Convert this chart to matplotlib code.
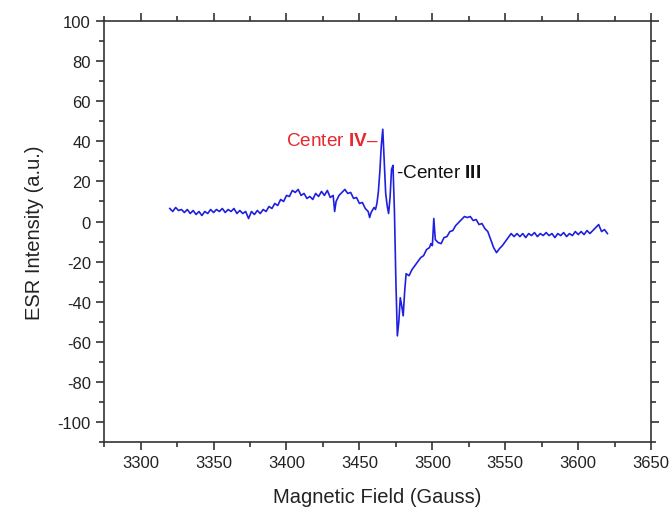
import numpy as np
import matplotlib
matplotlib.use("Agg")
import matplotlib.pyplot as plt
from matplotlib.ticker import MultipleLocator

plt.rcParams['font.family'] = ['Liberation Sans', 'DejaVu Sans']
plt.rcParams['mathtext.fontset'] = 'custom'
plt.rcParams['mathtext.rm'] = 'Liberation Sans'
plt.rcParams['mathtext.bf'] = 'Liberation Sans:bold'
plt.rcParams['axes.unicode_minus'] = False

# ESR spectrum (field in Gauss, intensity in a.u.)
field = [
    3320, 3322, 3324, 3326, 3328, 3330, 3332, 3334, 3336, 3338,
    3340, 3342, 3344, 3346, 3348, 3350, 3352, 3354, 3356, 3358,
    3360, 3362, 3364, 3366, 3368, 3370, 3372, 3374, 3376, 3378,
    3380, 3382, 3384, 3386, 3388, 3390, 3392, 3394, 3396, 3398,
    3400, 3402, 3404, 3406, 3408, 3410, 3412, 3414, 3416, 3418,
    3420, 3422, 3424, 3426, 3428, 3430, 3432, 3433, 3434, 3436,
    3438, 3440, 3442, 3444, 3446, 3448, 3450, 3452, 3454, 3456,
    3457, 3458, 3460, 3461, 3462, 3463, 3464, 3465, 3466, 3467,
    3468, 3469, 3470, 3471, 3472, 3473, 3474, 3475, 3476, 3477,
    3478, 3479, 3480, 3481, 3482, 3484, 3486, 3488, 3490, 3492,
    3494, 3496, 3498, 3499, 3500, 3501, 3502, 3504, 3506, 3508,
    3510, 3512, 3514, 3516, 3518, 3520, 3522, 3524, 3526, 3528,
    3530, 3532, 3534, 3536, 3538, 3540, 3542, 3544, 3546, 3548,
    3550, 3552, 3554, 3556, 3558, 3560, 3562, 3564, 3566, 3568,
    3570, 3572, 3574, 3576, 3578, 3580, 3582, 3584, 3586, 3588,
    3590, 3592, 3594, 3596, 3598, 3600, 3602, 3604, 3606, 3608,
    3610, 3612, 3614, 3616, 3618, 3620,
]
intensity = [
    6.5, 5, 7, 5.5, 6, 4.5, 6, 4, 5.5, 3.5,
    5, 3, 5, 4, 6, 4.5, 6, 5, 6.5, 4.5,
    6, 5, 6.5, 4, 5.5, 4, 5, 1.5, 5, 3.5,
    5.5, 4, 6, 5, 7.5, 6.5, 9, 8, 11, 10,
    13, 12.5, 15.5, 14.5, 16, 13, 14, 11.5, 12.5, 11,
    14, 12.5, 15, 13, 15.5, 12, 13, 5, 10, 13,
    14.5, 16, 14, 14.5, 11.5, 12, 9, 9.5, 6.5, 5,
    2, 4.5, 7, 6, 9, 15, 25, 38, 46, 30,
    14, 8, 4, 12, 26, 28, 5, -30, -57, -50,
    -38, -42, -47, -35, -26, -27, -24, -22, -20, -18,
    -17, -14, -13, -11, -12, 1.5, -9, -10.5, -11, -8,
    -7.5, -5, -4.5, -2, -0.5, 1, 2.5, 2, 2.5, 0.5,
    1, -1.5, -1, -3.5, -5, -9, -13, -15.5, -13.5, -12,
    -10, -8, -6, -7.5, -6, -7.5, -6, -8, -6, -7,
    -5.5, -7.5, -6, -7, -5.5, -7, -6, -8, -6, -7,
    -5.5, -7.5, -6, -7, -5, -6.5, -5, -6.5, -4.5, -6,
    -4.5, -3, -1.5, -5, -4, -6,
]

fig = plt.figure(figsize=(6.72, 5.10), dpi=100)
ax = fig.add_axes([0.155, 0.131, 0.814, 0.826])

ax.plot(field, intensity, color="#1f1fe0", linewidth=1.2)

ax.set_xlim(3275, 3650)
ax.set_ylim(-110, 100)
ax.xaxis.set_major_locator(MultipleLocator(50))
ax.xaxis.set_minor_locator(MultipleLocator(25))
ax.yaxis.set_major_locator(MultipleLocator(20))
ax.yaxis.set_minor_locator(MultipleLocator(10))

ax.tick_params(which='both', direction='out', top=True, right=True,
               labelsize=12, colors='#222222', width=1.1)
ax.tick_params(which='major', length=6)
ax.tick_params(which='minor', length=3.5)
for s in ax.spines.values():
    s.set_linewidth(1.2)
    s.set_color('#333333')

ax.set_xlabel("Magnetic Field (Gauss)", fontsize=14.5, color='#222222', labelpad=12)
ax.set_ylabel("ESR Intensity (a.u.)", fontsize=14.5, color='#222222', labelpad=10)

# peak labels
ax.text(3463.5, 40.5, r"Center $\mathbf{IV}$–", color="#e8282c", fontsize=13.7,
        ha='right', va='center')
ax.text(3475, 24.5, r"-Center $\mathbf{III}$", color="#111111", fontsize=13.7,
        ha='left', va='center')

fig.savefig("out.png", dpi=100)
